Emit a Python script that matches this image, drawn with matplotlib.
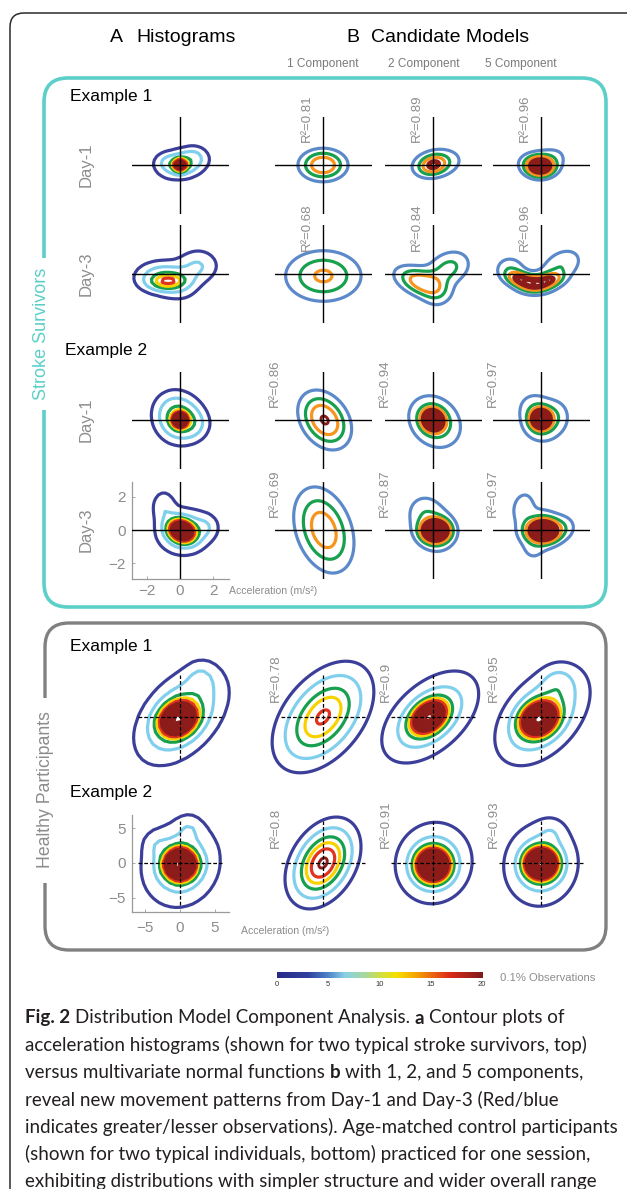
import numpy as np
import matplotlib
matplotlib.use("Agg")
import matplotlib.pyplot as plt
from matplotlib.patches import FancyBboxPatch, Rectangle
from matplotlib.colors import LinearSegmentedColormap

plt.rcParams['font.family'] = ['Liberation Sans', 'DejaVu Sans']

W, H = 627, 1189

# ---------------------------------------------------------------- data
component_titles = ["1 Component", "2 Component", "5 Component"]
day_labels = ["Day-1", "Day-3"]
example_labels = ["Example 1", "Example 2"]
section_labels = ["Stroke Survivors", "Healthy Participants"]

r2_stroke = [[0.81, 0.89, 0.96],   # example 1, day-1
             [0.68, 0.84, 0.96],   # example 1, day-3
             [0.86, 0.94, 0.97],   # example 2, day-1
             [0.69, 0.87, 0.97]]   # example 2, day-3
r2_healthy = [[0.78, 0.9, 0.95],
              [0.8, 0.91, 0.93]]

stroke_ticks = [-2, 0, 2]
healthy_ticks = [-5, 0, 5]
colorbar_ticks = [0, 5, 10, 15, 20]

# contour levels (0.1% observations)
hist_levels = [2, 5, 9, 12, 15]
hist_top_start = 18
stroke_model_levels = [4, 9, 14]
stroke_model_top_start = 20

# mixture components: (height, mx, my, sx, sy, rho)
# stroke survivors, example 1, day-1
s1d1_hist = [(20, 0.0, 0.0, 0.25, 0.22, 0.0), (9, 0.1, 0.05, 0.9, 0.55, 0.15),
             (2.5, 0.9, 0.6, 0.5, 0.4, 0.0), (2.0, -0.9, 0.25, 0.45, 0.35, 0.0)]
s1d1_m1 = [(19.5, 0.0, 0.0, 0.85, 0.57, 0.0)]
s1d1_m2 = [(14, 0.0, 0.0, 0.5, 0.35, 0.2), (10, 0.2, 0.1, 1.0, 0.6, 0.2)]
s1d1_m5 = [(30, -0.05, -0.1, 0.55, 0.38, 0.0), (6, 0.5, 0.3, 0.8, 0.6, 0.3),
           (4, -0.7, 0.2, 0.6, 0.45, 0.0)]
# stroke survivors, example 1, day-3
s1d3_hist = [(8, -0.7, -0.45, 0.7, 0.3, 0.1), (8, -1.1, -0.2, 1.0, 0.6, 0.0),
             (5, 1.1, 0.5, 0.8, 0.65, 0.0), (3, 0.0, -0.8, 0.8, 0.6, 0.0)]
s1d3_m1 = [(15, 0.02, -0.12, 1.4, 0.94, 0.0)]
s1d3_m2 = [(17, -0.75, -0.5, 0.95, 0.6, -0.45), (10.5, 0.95, 0.35, 0.85, 0.7, 0.25),
           (4, 0.2, -1.2, 0.6, 0.7, 0.0)]
s1d3_m5 = [(18, -1.3, -0.3, 0.5, 0.3, -0.3), (20, -0.4, -0.6, 0.55, 0.3, 0.0),
           (15, 0.55, -0.35, 0.5, 0.3, 0.3), (8, 1.3, 0.6, 0.8, 0.65, 0.3),
           (7, -1.9, 0.35, 0.6, 0.5, 0.0), (4, -0.3, -0.6, 1.3, 0.7, 0.1)]
# stroke survivors, example 2, day-1
s2d1_hist = [(30, 0.0, 0.0, 0.25, 0.25, 0.0), (10, 0.0, 0.0, 0.85, 0.85, 0.0),
             (3, -0.5, 0.7, 0.8, 0.8, 0.0), (3, 0.9, -0.3, 0.6, 0.6, 0.0)]
s2d1_m1 = [(20.6, 0.1, 0.0, 0.9, 1.0, -0.3)]
s2d1_m2 = [(40, 0.0, 0.0, 0.4, 0.4, -0.1), (12, 0.1, -0.1, 1.05, 1.05, -0.2)]
s2d1_m5 = [(40, 0.0, 0.05, 0.38, 0.38, 0.0), (9, 0.1, -0.05, 0.95, 0.95, 0.0),
           (3, -0.6, 0.9, 0.6, 0.6, 0.0), (3, 1.0, 0.3, 0.5, 0.6, 0.0)]
# stroke survivors, example 2, day-3
s2d3_hist = [(28, 0.1, -0.05, 0.5, 0.42, -0.2), (7, 0.2, -0.1, 1.05, 0.9, 0.0),
             (4, -1.0, 1.5, 0.45, 0.6, 0.0), (3, 1.6, 0.2, 0.5, 0.5, 0.0)]
s2d3_m1 = [(18, 0.05, 0.0, 1.05, 1.5, -0.3)]
s2d3_m2 = [(45, 0.15, -0.05, 0.52, 0.42, 0.0), (8, 0.0, 0.2, 1.0, 1.15, -0.2),
           (3, -0.6, 1.2, 0.6, 0.6, 0.0)]
s2d3_m5 = [(40, 0.15, -0.05, 0.6, 0.42, 0.0), (8, -0.1, 0.1, 1.0, 0.9, 0.0),
           (6, -1.1, 1.5, 0.45, 0.6, 0.2), (4, 1.5, 0.2, 0.5, 0.5, 0.0),
           (3, -0.5, -1.3, 0.5, 0.5, 0.0)]
# healthy participants, example 1
h1_hist = [(34, -0.3, -0.3, 1.55, 1.45, 0.2), (10, 0.2, 0.2, 3.8, 4.0, 0.45),
           (3, 3.0, 5.5, 1.3, 1.5, 0.0)]
h1_m1 = [(15.5, 0.0, 0.0, 3.6, 3.95, 0.45)]
h1_m2 = [(28, -0.6, 0.0, 1.55, 1.45, 0.35), (9, -0.4, 0.0, 4.0, 3.8, 0.5)]
h1_m5 = [(33, -0.3, -0.3, 1.55, 1.45, 0.2), (10, 0.2, 0.2, 3.8, 4.0, 0.45),
         (3, 2.5, 5.0, 1.5, 1.5, 0.0)]
# healthy participants, example 2
h2_hist = [(44, 0.0, -0.2, 1.3, 1.3, 0.0), (8, 0.1, -0.2, 3.4, 3.7, 0.1),
           (2.5, 1.3, 5.0, 1.2, 1.2, 0.0), (2, -3.5, 2.8, 1.2, 1.2, 0.0)]
h2_m1 = [(18.5, 0.0, 0.0, 2.58, 3.12, 0.35)]
h2_m2 = [(38, 0.0, -0.3, 1.4, 1.4, 0.0), (8, 0.1, 0.0, 3.3, 3.5, 0.05)]
h2_m5 = [(42, 0.0, -0.1, 1.35, 1.3, 0.0), (8, 0.0, -0.2, 3.2, 3.6, 0.05),
         (2, 1.5, 4.5, 1.3, 1.3, 0.0)]

# ---------------------------------------------------------------- style
NAVY, LBLUE, GREEN, YELLOW, RED, DRED = '#3b3f99', '#80cfec', '#17a04e', '#f8d200', '#e2331f', '#8c1c1a'
MBLUE, ORANGE = '#5b89c9', '#f7941d'
CYAN, GREY = '#5ccfc8', '#808080'
TXT_GREY = '#8c8c8c'
hist_colors = [NAVY, LBLUE, GREEN, YELLOW, RED]
stroke_model_colors = [MBLUE, GREEN, ORANGE]

cmap = LinearSegmentedColormap.from_list('obs', [
    (0.0, '#2a2a87'), (0.15, '#3040a0'), (0.25, '#4f86c8'), (0.33, '#89d0e8'),
    (0.43, '#a8d89a'), (0.5, '#cfe045'), (0.58, '#f5e000'), (0.67, '#f6a800'),
    (0.75, '#ec6a10'), (0.84, '#dd2b1a'), (1.0, '#7f1a1a')])

fig = plt.figure(figsize=(W / 100, H / 100), dpi=100)

# background overlay in pixel coordinates
ax0 = fig.add_axes([0, 0, 1, 1])
ax0.set_xlim(0, W)
ax0.set_ylim(H, 0)
ax0.axis('off')


def P(x, y):
    return x / W, 1 - y / H


ax0.add_patch(FancyBboxPatch((10, 13), 700, 1300, boxstyle="round,pad=0,rounding_size=14",
                             fc='none', ec='#2b2b2b', lw=1.1))
ax0.add_patch(FancyBboxPatch((44, 78), 562, 529, boxstyle="round,pad=0,rounding_size=24",
                             fc='none', ec=CYAN, lw=2.6))
ax0.add_patch(FancyBboxPatch((45, 623), 561, 327, boxstyle="round,pad=0,rounding_size=24",
                             fc='none', ec=GREY, lw=2.4))
ax0.add_patch(Rectangle((34, 258), 20, 152, fc='white', ec='none'))
ax0.add_patch(Rectangle((34, 698), 20, 185, fc='white', ec='none'))


def density(comps, X, Y):
    Z = np.zeros_like(X)
    for h, mx, my, sx, sy, r in comps:
        dx = (X - mx) / sx
        dy = (Y - my) / sy
        q = (dx * dx - 2 * r * dx * dy + dy * dy) / (1 - r * r)
        Z += h * np.exp(-0.5 * q)
    return Z


SIZE = 97


def panel(cx, cy, lim, comps, step, ext, levels, colors, top_start, dashed):
    ax = fig.add_axes([(cx - SIZE / 2) / W, 1 - (cy + SIZE / 2) / H, SIZE / W, SIZE / H])
    ax.set_xlim(-lim, lim)
    ax.set_ylim(-lim, lim)
    ax.set_facecolor('none')
    for s in ax.spines.values():
        s.set_visible(False)
    ax.set_xticks([])
    ax.set_yticks([])
    g = np.arange(-ext, ext + 1e-9, step)
    X, Y = np.meshgrid(g, g)
    Z = density(comps, X, Y)
    for lev, col in zip(levels, colors):
        if Z.min() < lev < Z.max():
            cs = ax.contour(X, Y, Z, levels=[lev], colors=[col], linewidths=2.3)
            cs.set_clip_on(False)
    tops = np.arange(top_start, Z.max(), 2.5)
    if len(tops):
        cs = ax.contour(X, Y, Z, levels=tops, colors=[DRED], linewidths=2.1)
        cs.set_clip_on(False)
    if dashed:
        c = 6.0
        ax.plot([-c, c], [0, 0], color='k', lw=0.9, dashes=(3, 1.6), zorder=5, clip_on=False)
        ax.plot([0, 0], [-c, c], color='k', lw=0.9, dashes=(3, 1.6), zorder=5, clip_on=False)
    else:
        ax.plot([-lim, lim], [0, 0], color='k', lw=1.0, zorder=5)
        ax.plot([0, 0], [-lim, lim], color='k', lw=1.0, zorder=5)
    return ax


def axis_ticks(ax, ticks, pad):
    for side in ['left', 'bottom']:
        ax.spines[side].set_visible(True)
        ax.spines[side].set_color('#9a9a9a')
        ax.spines[side].set_linewidth(0.9)
    ax.set_xticks(ticks)
    ax.set_yticks(ticks)
    ax.set_xticklabels([f"{t}".replace('-', '\u2212') for t in ticks])
    ax.set_yticklabels([f"{t}".replace('-', '\u2212') for t in ticks])
    ax.tick_params(length=2, width=0.6, direction='in', colors='#9a9a9a',
                   labelcolor='#8c8c8c', labelsize=11)
    ax.tick_params(axis='x', pad=pad)
    ax.tick_params(axis='y', pad=4)


cols_x = [180, 323, 433, 541]
stroke_rows_y = [165, 274, 420, 530]
healthy_rows_y = [717, 863]

stroke_panels = [[s1d1_hist, s1d1_m1, s1d1_m2, s1d1_m5],
                 [s1d3_hist, s1d3_m1, s1d3_m2, s1d3_m5],
                 [s2d1_hist, s2d1_m1, s2d1_m2, s2d1_m5],
                 [s2d3_hist, s2d3_m1, s2d3_m2, s2d3_m5]]
healthy_panels = [[h1_hist, h1_m1, h1_m2, h1_m5],
                  [h2_hist, h2_m1, h2_m2, h2_m5]]

for i, (cy, row) in enumerate(zip(stroke_rows_y, stroke_panels)):
    for j, (cx, comps) in enumerate(zip(cols_x, row)):
        if j == 0:
            ax = panel(cx, cy, 2.93, comps, 0.2, 4.5, hist_levels, hist_colors, hist_top_start, False)
            if i == 3:
                axis_ticks(ax, stroke_ticks, 4)
        else:
            panel(cx, cy, 2.93, comps, 0.04, 4.5, stroke_model_levels, stroke_model_colors,
                  stroke_model_top_start, False)
            dx, dy = (-16, -23) if i < 2 else (-48, -13)
            fig.text(*P(cx + dx, cy + dy), f"R\u00b2={r2_stroke[i][j - 1]}", rotation=90,
                     ha='center', va='bottom', fontsize=9.5, color=TXT_GREY)

for i, (cy, row) in enumerate(zip(healthy_rows_y, healthy_panels)):
    for j, (cx, comps) in enumerate(zip(cols_x, row)):
        if j == 0:
            ax = panel(cx, cy, 6.95, comps, 0.8, 11, hist_levels, hist_colors, hist_top_start, True)
            if i == 1:
                axis_ticks(ax, healthy_ticks, 7)
        else:
            panel(cx, cy, 6.95, comps, 0.1, 11, hist_levels, hist_colors, hist_top_start, True)
            fig.text(*P(cx - 47, cy - 15), f"R\u00b2={r2_healthy[i][j - 1]}", rotation=90,
                     ha='center', va='bottom', fontsize=9.5, color=TXT_GREY)

# ---------------------------------------------------------------- labels
fig.text(*P(110, 37), "A", fontsize=14, ha='left', va='center')
fig.text(*P(136, 37), "Histograms", fontsize=14, ha='left', va='center')
fig.text(*P(346, 37), "B", fontsize=14, ha='left', va='center')
fig.text(*P(371, 37), "Candidate Models", fontsize=14, ha='left', va='center')
for x, t in zip([323, 424, 521], component_titles):
    fig.text(*P(x, 64), t, fontsize=8.6, ha='center', va='center', color='#7a7a7a')

fig.text(*P(70, 97), example_labels[0], fontsize=12.5, ha='left', va='center')
fig.text(*P(65, 351), example_labels[1], fontsize=12.5, ha='left', va='center')
fig.text(*P(70, 647), example_labels[0], fontsize=12.5, ha='left', va='center')
fig.text(*P(70, 793), example_labels[1], fontsize=12.5, ha='left', va='center')

for k, cy in enumerate(stroke_rows_y):
    fig.text(*P(86, cy), day_labels[k % 2], rotation=90, fontsize=12, ha='center', va='center',
             color=TXT_GREY)

fig.text(*P(42, 334), section_labels[0], rotation=90, fontsize=13, ha='center', va='center',
         color=CYAN)
fig.text(*P(46, 790), section_labels[1], rotation=90, fontsize=12.7, ha='center', va='center',
         color=TXT_GREY)

fig.text(*P(229, 591), "Acceleration (m/s\u00b2)", fontsize=7.6, ha='left', va='center', color=TXT_GREY)
fig.text(*P(241, 931), "Acceleration (m/s\u00b2)", fontsize=7.6, ha='left', va='center', color=TXT_GREY)

# ---------------------------------------------------------------- colorbar
cax = fig.add_axes([277 / W, 1 - 978 / H, 205 / W, 6 / H])
cax.imshow(np.linspace(0, 20, 256)[None, :], aspect='auto', cmap=cmap, extent=[0, 20, 0, 1])
cax.set_yticks([])
cax.set_xticks(colorbar_ticks)
cax.tick_params(axis='x', length=0, pad=2, labelsize=5.5, labelcolor='#333333')
for s in cax.spines.values():
    s.set_visible(False)
fig.text(*P(500, 978), "0.1% Observations", fontsize=8.1, ha='left', va='center', color=TXT_GREY)

# ---------------------------------------------------------------- caption
caption_lines = [
    [("Fig. 2", True), ("Distribution Model Component Analysis.", False), ("a", True),
     ("Contour plots of", False)],
    [("acceleration histograms (shown for two typical stroke survivors, top)", False)],
    [("versus multivariate normal functions", False), ("b", True),
     ("with 1, 2, and 5 components,", False)],
    [("reveal new movement patterns from Day-1 and Day-3 (Red/blue", False)],
    [("indicates greater/lesser observations). Age-matched control participants", False)],
    [("(shown for two typical individuals, bottom) practiced for one session,", False)],
    [("exhibiting distributions with simpler structure and wider overall range", False)],
]
CAP_FONT = ['Lato', 'DejaVu Sans']
renderer = fig.canvas.get_renderer()


def text_width(s, bold, size):
    t = fig.text(0, 0, s, fontsize=size, fontweight='bold' if bold else 'normal', family=CAP_FONT)
    w = t.get_window_extent(renderer=renderer).width
    t.remove()
    return w


cap_size = 12.0 * 592 / text_width(caption_lines[4][0][0], False, 12.0)
space_w = text_width("x x", False, cap_size) - text_width("xx", False, cap_size)
for li, line in enumerate(caption_lines):
    y = 1018 + 27.2 * li
    x = 25
    for s, bold in line:
        fig.text(*P(x, y), s, fontsize=cap_size, fontweight='bold' if bold else 'normal',
                 family=CAP_FONT, ha='left', va='center', color='#231f20')
        x += text_width(s, bold, cap_size) + space_w

fig.savefig("out.png", dpi=100)
